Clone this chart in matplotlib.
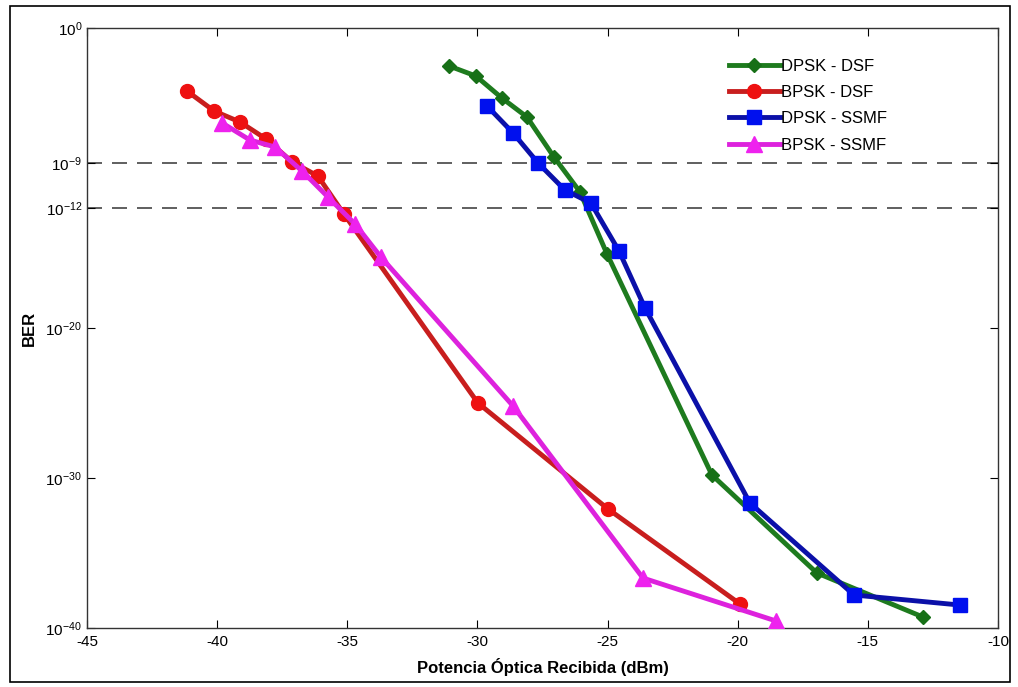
import matplotlib
matplotlib.use("Agg")
import matplotlib.pyplot as plt
from matplotlib.patches import Rectangle
import numpy as np

plt.rcParams['font.family'] = ['Liberation Sans', 'DejaVu Sans']
plt.rcParams['mathtext.fontset'] = 'custom'
plt.rcParams['mathtext.rm'] = 'Liberation Sans'
plt.rcParams['mathtext.it'] = 'Liberation Sans'

# Data (x in dBm, y as log10(BER))
dpsk_dsf_x = [-31.09, -30.06, -29.06, -28.10, -27.06, -26.06, -25.02, -20.99, -16.96, -12.88]
dpsk_dsf_y = [-2.53, -3.2, -4.67, -5.93, -8.6, -10.93, -15.07, -29.8, -36.33, -39.27]

bpsk_dsf_x = [-41.16, -40.12, -39.12, -38.12, -37.12, -36.13, -35.13, -29.98, -24.98, -19.91]
bpsk_dsf_y = [-4.2, -5.53, -6.27, -7.4, -8.93, -9.87, -12.4, -25.0, -32.07, -38.4]

dpsk_ssmf_x = [-29.63, -28.63, -27.67, -26.64, -25.64, -24.56, -23.56, -19.53, -15.53, -11.46]
dpsk_ssmf_y = [-5.2, -7.0, -9.0, -10.8, -11.67, -14.87, -18.67, -31.67, -37.8, -38.47]

bpsk_ssmf_x = [-39.81, -38.74, -37.78, -36.74, -35.74, -34.70, -33.71, -28.63, -23.64, -18.53]
bpsk_ssmf_y = [-6.33, -7.47, -7.93, -9.53, -11.27, -13.07, -15.27, -25.2, -36.67, -39.53]

ref_levels = [-9, -12]
ytick_exps = [0, -9, -12, -20, -30, -40]
xticks = [-45, -40, -35, -30, -25, -20, -15, -10]

fig = plt.figure(figsize=(10.18, 6.87), dpi=100)
ax = fig.add_axes([87/1018, 1-628/687, (998-87)/1018, (628-28)/687])

series = [
    (dpsk_dsf_x, dpsk_dsf_y, '#1e7b1e', '#177017', 'D', 7, 'DPSK - DSF'),
    (bpsk_dsf_x, bpsk_dsf_y, '#c81e1e', '#ee1111', 'o', 10, 'BPSK - DSF'),
    (dpsk_ssmf_x, dpsk_ssmf_y, '#0b10a8', '#0010ee', 's', 10, 'DPSK - SSMF'),
    (bpsk_ssmf_x, bpsk_ssmf_y, '#dd22dd', '#ee22ee', '^', 11, 'BPSK - SSMF'),
]
for lv in ref_levels:
    ax.axhline(10.0**lv, color='#444444', lw=1.2, dashes=(9, 6), zorder=1)

for x, y, lc, mc, m, ms, lab in series:
    ax.plot(x, 10.0**np.array(y), color=lc, marker=m, ms=ms, lw=3.5,
            mfc=mc, mec=mc, label=lab, zorder=3)

ax.set_yscale('log')
ax.set_ylim(1e-40, 1e0)
ax.set_xlim(-45, -10)
ax.set_yticks([10.0**e for e in ytick_exps])
ax.set_yticklabels([r'$10^{%d}$' % e for e in ytick_exps], fontsize=11)
ax.minorticks_off()
ax.set_xticks(xticks)
ax.set_xticklabels([str(t) for t in xticks], fontsize=11)
ax.tick_params(direction='in', top=True, right=True, length=6, width=0.8)
ax.tick_params(axis='x', pad=5)
for s in ax.spines.values():
    s.set_color('#333333')
    s.set_linewidth(1.0)

ax.set_xlabel('Potencia Óptica Recibida (dBm)', fontsize=12, fontweight='bold')
ax.set_ylabel('BER', fontsize=12, fontweight='bold')
ax.xaxis.set_label_coords(0.5, -0.05)
ax.yaxis.set_label_coords(-0.055, 0.5)

leg = ax.legend(loc='upper left', bbox_to_anchor=(0.697, 0.96), frameon=False,
                fontsize=12, handlelength=3.1, handletextpad=0.05,
                labelspacing=0.68, borderaxespad=0)

fig.patches.append(Rectangle((10/1018, 5/687), 1000/1018, 676/687,
                             transform=fig.transFigure, fill=False,
                             edgecolor='black', lw=1.2))

fig.savefig('out.png', dpi=100)
